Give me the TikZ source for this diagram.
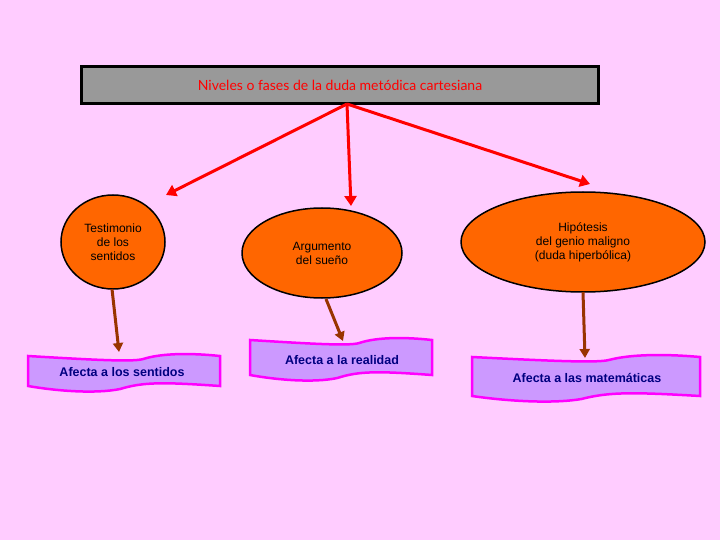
\documentclass[tikz,border=0pt]{standalone}
\usepackage{fontspec}
\setmainfont{Liberation Sans}
\newfontfamily\titlefont{Lato}
\usetikzlibrary{arrows.meta}
\definecolor{bg}{HTML}{FFCCFF}
\definecolor{org}{HTML}{FF6600}
\definecolor{lav}{HTML}{CC99FF}
\definecolor{mag}{HTML}{FF00FF}
\definecolor{navy}{HTML}{000080}
\definecolor{brn}{HTML}{993300}
\tikzset{
 ell/.style={ellipse,draw=black,line width=1.5pt,fill=org,align=center,font=\fontsize{12}{14}\selectfont,inner sep=0pt},
 lbl/.style={font=\bfseries\fontsize{12.5}{14}\selectfont,text=navy,inner sep=0pt},
 redar/.style={draw=red,line width=3pt,-{Triangle[length=10pt,width=12pt]}},
 brar/.style={draw=brn,line width=3pt,-{Triangle[length=9pt,width=10pt]}},
 ban/.style={fill=lav,draw=mag,line width=2.5pt}
}
\newcommand{\banner}[4]{% x1 y1 x2 y2
 \path[ban] (#1,#2) .. controls ({#1+0.35*(#3-#1)},{#2+4}) and ({#1+0.55*(#3-#1)},{#2+6}) .. ({#1+0.6*(#3-#1)},{#2+3})
   .. controls ({#1+0.7*(#3-#1)},{#2-3}) and ({#1+0.85*(#3-#1)},{#2-3}) .. (#3,#2)
   -- (#3,#4) .. controls ({#1+0.7*(#3-#1)},{#4-4}) and ({#1+0.6*(#3-#1)},{#4-4}) .. ({#1+0.48*(#3-#1)},{#4+3})
   .. controls ({#1+0.35*(#3-#1)},{#4+8}) and ({#1+0.15*(#3-#1)},{#4+5}) .. (#1,#4) -- cycle;}
\usetikzlibrary{shapes.geometric}
\begin{document}
\begin{tikzpicture}[x=1pt,y=-1pt]
\fill[bg] (0,0) rectangle (720,540);
\useasboundingbox (0,0) rectangle (720,540);
\node[draw=black,line width=2.5pt,fill=gray!80,minimum width=517pt,minimum height=37pt,inner sep=0pt,
  font=\titlefont\fontsize{14}{16}\selectfont,text=red] (t) at (340,85) {Niveles o fases de la duda metódica cartesiana};
\node[ell,minimum width=104pt,minimum height=94pt] (e1) at (113,242) {Testimonio\\de los\\sentidos};
\node[ell,minimum width=160pt,minimum height=90pt] (e2) at (322,253) {Argumento\\del sueño};
\node[ell,minimum width=244pt,minimum height=100pt] (e3) at (583,242) {Hipótesis\\del genio maligno\\(duda hiperbólica)};
\coordinate (s) at (347,104);
\draw[redar] (s) -- (166,195);
\draw[redar] (s) -- (351,206);
\draw[redar] (s) -- (590,184);
\banner{28}{356}{220}{386}
\banner{250}{340}{432}{375}
\banner{472}{357}{700}{396}
\node[lbl] (b1) at (122,372) {Afecta a los sentidos};
\node[lbl] (b2) at (342,360) {Afecta a la realidad};
\node[lbl] (b3) at (587,378) {Afecta a las matemáticas};
\draw[brar] (112,289) -- (119,352);
\draw[brar] (326,299) -- (343,341);
\draw[brar] (583,292) -- (585,358);
\end{tikzpicture}
\end{document}
